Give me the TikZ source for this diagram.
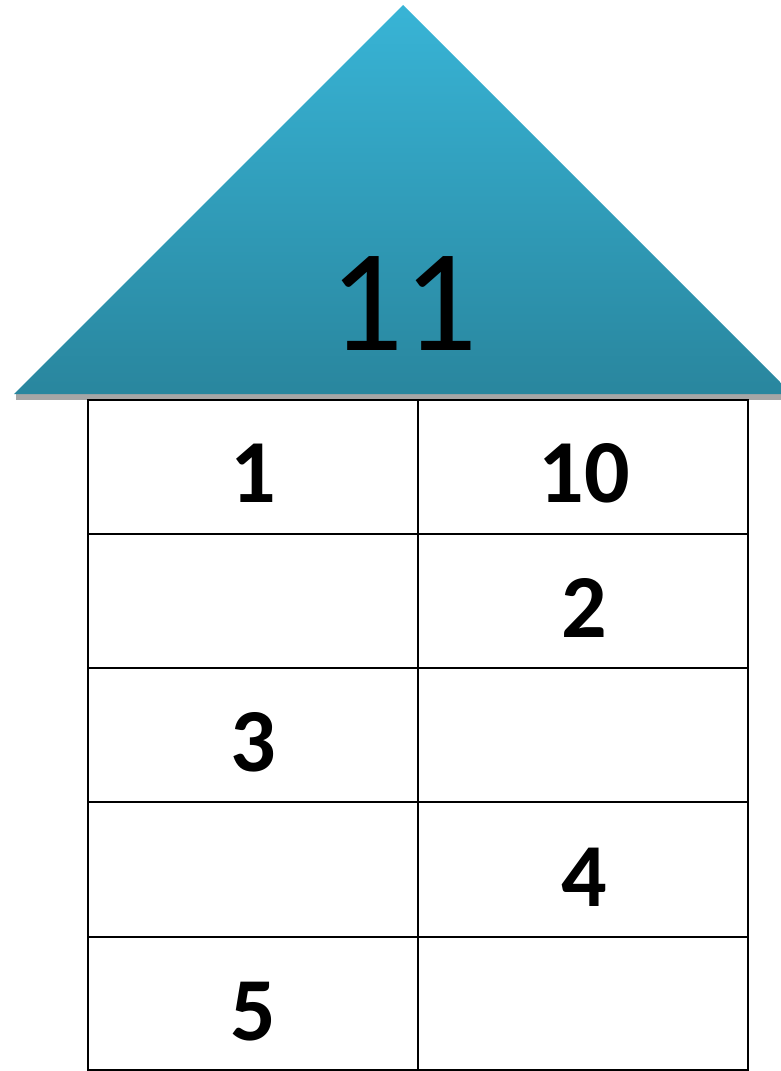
\documentclass[tikz,border=0pt]{standalone}
\usepackage{fontspec}
\setmainfont{Carlito}
\usetikzlibrary{shadows.blur}
\definecolor{roofTop}{RGB}{56,180,214}
\definecolor{roofBot}{RGB}{41,134,158}
\tikzset{
  cellnum/.style={anchor=base, font=\fontsize{90}{90}\selectfont\bfseries},
  grid/.style={draw=black, line width=2.6pt},
}
\begin{document}
\begin{tikzpicture}[x=1pt,y=-1pt]
\useasboundingbox (0,0) rectangle (781,1071);
\clip (0,0) rectangle (781,1071);
% shadow under roof
\fill[black!35] (16,394) -- (795,394) -- (795,400) -- (16,400) -- cycle;
% roof
\shade[top color=roofTop, bottom color=roofBot] (403,5) -- (792,394) -- (14,394) -- cycle;
\coordinate (apex) at (403,5);
\node[anchor=base, font=\fontsize{146}{146}\selectfont] (roof) at (403,350) {11};
% table
\draw[grid] (88,400) rectangle (748,1070);
\draw[grid] (418,400) -- (418,1070);
\foreach \y in {534,668,802,937} \draw[grid] (88,\y) -- (748,\y);
\node[cellnum] (c11) at (253,502) {1};
\node[cellnum] (c12) at (584,502) {10};
\node[cellnum] (c22) at (584,637) {2};
\node[cellnum] (c31) at (253,771) {3};
\node[cellnum] (c42) at (584,906) {4};
\node[cellnum] (c51) at (253,1040) {5};
\end{tikzpicture}
\end{document}
